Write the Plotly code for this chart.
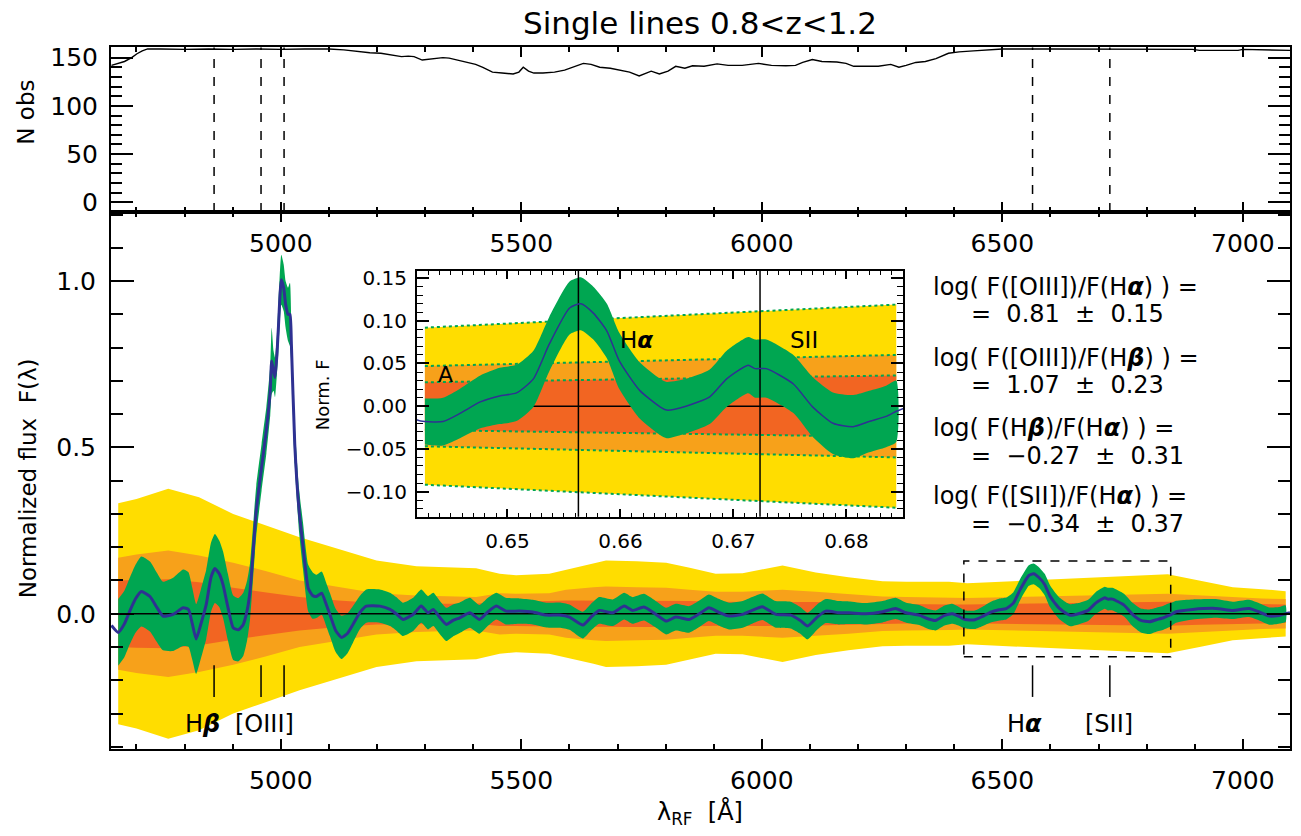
import plotly.graph_objects as go

# ---------------- data ----------------
# top panel: number of spectra contributing at each rest-frame wavelength
nobs_lam = [4648, 4660, 4675, 4690, 4701, 4712, 4723, 4750, 4800, 4850, 4900, 4950, 5000, 5050,
            5100, 5131, 5150, 5165, 5185, 5208, 5230, 5251, 5265, 5277, 5294, 5310, 5337, 5350,
            5362, 5380, 5405, 5420, 5440, 5460, 5483, 5495, 5504, 5515, 5526, 5545, 5569, 5590,
            5606, 5629, 5645, 5663, 5685, 5706, 5725, 5745, 5770, 5787, 5805, 5821, 5840, 5856,
            5880, 5907, 5930, 5959, 5975, 5993, 6020, 6050, 6070, 6085, 6105, 6125, 6156, 6175,
            6191, 6220, 6242, 6268, 6285, 6300, 6320, 6340, 6362, 6388, 6410, 6440, 6470, 6500,
            6600, 6700, 6800, 6895, 6910, 6990, 7000, 7040, 7084, 7098]
nobs = [142, 144, 146, 150, 154, 157, 159, 159, 158.5, 159, 158.5, 159, 158.5, 159,
        159, 158, 157, 155.5, 155, 154.5, 153, 151, 151.5, 151, 147.5, 148.5, 150, 149.5,
        148, 146, 143, 140, 135, 134, 133, 135, 140, 136, 134, 134, 135, 137,
        140, 144, 143, 140, 139, 137, 135, 131, 136, 133, 136, 141, 139, 141.5,
        141, 143.5, 142, 142, 143, 144, 142, 141.5, 142, 145, 148, 146, 145.5, 144,
        141, 141, 141, 143, 140, 142, 145, 146, 149, 154.5, 156, 157, 158, 159,
        159, 159, 159, 158.5, 157.5, 157.5, 158.5, 158, 157.5, 157.5]

# main panel: stacked normalized flux (median) and its uncertainty
lam = [4648, 4662, 4675, 4686, 4698, 4710, 4728, 4742, 4755, 4776, 4797, 4808, 4816, 4824,
       4834, 4845, 4855, 4863, 4872, 4880, 4890, 4901, 4912, 4922, 4930, 4936, 4949, 4960,
       4970, 4978, 4981, 4985, 4988, 4992, 4995, 5001, 5006, 5010, 5015, 5019, 5022, 5029,
       5038, 5046, 5057, 5066, 5074, 5085, 5094, 5102, 5114, 5126, 5138, 5150, 5165, 5178,
       5206, 5227, 5240, 5254, 5275, 5292, 5306, 5317, 5330, 5344, 5358, 5372, 5393, 5413,
       5430, 5448, 5468, 5496, 5524, 5552, 5579, 5600, 5628, 5645, 5662, 5690, 5714, 5731,
       5755, 5778, 5801, 5821, 5849, 5870, 5890, 5910, 5932, 5960, 5980, 6001, 6029, 6060,
       6080, 6095, 6115, 6133, 6160, 6181, 6216, 6251, 6278, 6300, 6327, 6345, 6361, 6380,
       6396, 6410, 6420, 6427, 6443, 6458, 6476, 6493, 6508, 6523, 6537, 6555, 6565, 6576,
       6588, 6599, 6617, 6635, 6641, 6658, 6679, 6694, 6713, 6719, 6729, 6753, 6770, 6788,
       6806, 6820, 6835, 6844, 6850, 6861, 6896, 6944, 6979, 7013, 7035, 7055, 7075, 7089, 7098]
flux = [-0.035, -0.056, -0.030, 0.008, 0.045, 0.067, 0.052, 0.020, -0.007, -0.002, 0.018, 0.013, -0.030, -0.076,
        -0.030, 0.028, 0.110, 0.136, 0.120, 0.087, 0.020, -0.042, -0.048, -0.032, 0.010, 0.067, 0.310, 0.440,
        0.552, 0.670, 0.760, 0.730, 0.710, 0.780, 0.860, 1.004, 0.980, 0.930, 0.900, 0.900, 0.810, 0.510,
        0.310, 0.206, 0.077, 0.055, 0.052, 0.062, 0.030, -0.002, -0.050, -0.071, -0.060, -0.032, 0.005, 0.023,
        0.023, 0.013, 0.000, -0.017, -0.002, 0.023, 0.003, 0.013, -0.010, -0.032, -0.020, -0.012, 0.003, -0.017,
        0.005, 0.023, 0.008, 0.008, 0.005, -0.004, -0.004, -0.010, -0.034, -0.010, 0.010, 0.003, 0.023, 0.010,
        0.020, 0.000, -0.022, -0.010, -0.017, 0.000, 0.018, 0.005, -0.007, -0.002, 0.010, 0.021, -0.002, -0.004,
        -0.020, -0.037, -0.010, 0.008, 0.003, 0.003, 0.000, 0.006, 0.016, 0.003, -0.004, -0.015, -0.020, -0.005,
        0.000, -0.008, -0.016, -0.018, -0.018, -0.0085, 0.005, 0.012, 0.0155, 0.032, 0.0726, 0.115, 0.120, 0.109,
        0.088, 0.053, 0.0185, -0.0008, -0.0046, 0.000, 0.011, 0.032, 0.048, 0.044, 0.044, 0.026, -0.0008, -0.020,
        -0.024, -0.018, -0.012, -0.006, -0.003, 0.006, 0.013, 0.016, 0.010, 0.016, 0.005, -0.007, -0.005, 0.000, 0.003]
flux_err = [0.100, 0.100, 0.100, 0.100, 0.102, 0.105, 0.105, 0.104, 0.103, 0.110, 0.115, 0.112, 0.108, 0.105,
            0.104, 0.104, 0.104, 0.104, 0.100, 0.100, 0.100, 0.097, 0.095, 0.095, 0.090, 0.085, 0.075, 0.070,
            0.070, 0.075, 0.100, 0.060, 0.060, 0.060, 0.070, 0.075, 0.070, 0.070, 0.080, 0.095, 0.060, 0.060,
            0.065, 0.070, 0.070, 0.070, 0.065, 0.065, 0.065, 0.065, 0.065, 0.065, 0.060, 0.055, 0.050, 0.050,
            0.050, 0.050, 0.050, 0.050, 0.050, 0.050, 0.050, 0.050, 0.050, 0.050, 0.048, 0.046, 0.045, 0.043,
            0.042, 0.040, 0.040, 0.038, 0.037, 0.037, 0.038, 0.038, 0.040, 0.040, 0.040, 0.040, 0.040, 0.040,
            0.040, 0.040, 0.040, 0.040, 0.040, 0.040, 0.040, 0.040, 0.040, 0.040, 0.040, 0.040, 0.040, 0.040,
            0.040, 0.040, 0.038, 0.036, 0.035, 0.034, 0.032, 0.032, 0.032, 0.030, 0.030, 0.030, 0.030, 0.030,
            0.030, 0.028, 0.027, 0.027, 0.028, 0.029, 0.031, 0.033, 0.033, 0.033, 0.032, 0.031, 0.031, 0.031,
            0.032, 0.033, 0.033, 0.033, 0.033, 0.032, 0.032, 0.033, 0.033, 0.034, 0.034, 0.034, 0.035, 0.036,
            0.037, 0.036, 0.036, 0.036, 0.035, 0.033, 0.030, 0.028, 0.026, 0.026, 0.026, 0.026, 0.025, 0.025, 0.025]

# confidence bands (half-widths, symmetric around zero)
band_lam = [4662, 4700, 4766, 4830, 4901, 4970, 5039, 5120, 5199, 5282, 5350, 5406, 5455, 5489,
            5558, 5593, 5650, 5676, 5740, 5801, 5850, 5904, 5960, 6043, 6112, 6180, 6251, 6300,
            6389, 6427, 6844, 6910, 6979, 7040, 7089]
band_yellow = [0.332, 0.345, 0.376, 0.350, 0.300, 0.265, 0.230, 0.195, 0.160, 0.143, 0.140, 0.137, 0.120, 0.116,
               0.120, 0.132, 0.150, 0.160, 0.158, 0.153, 0.138, 0.120, 0.122, 0.145, 0.124, 0.110, 0.098, 0.096,
               0.096, 0.092, 0.119, 0.100, 0.080, 0.074, 0.068]
band_orange = [0.168, 0.178, 0.190, 0.175, 0.153, 0.128, 0.100, 0.080, 0.062, 0.055, 0.052, 0.050, 0.062, 0.060,
               0.062, 0.072, 0.080, 0.082, 0.080, 0.078, 0.072, 0.066, 0.066, 0.072, 0.066, 0.060, 0.052, 0.050,
               0.049, 0.047, 0.060, 0.055, 0.050, 0.046, 0.044]
band_red = [0.100, 0.102, 0.104, 0.095, 0.078, 0.064, 0.050, 0.040, 0.032, 0.030, 0.030, 0.030, 0.037, 0.037,
            0.038, 0.040, 0.040, 0.040, 0.040, 0.040, 0.038, 0.036, 0.036, 0.037, 0.035, 0.033, 0.030, 0.029,
            0.028, 0.028, 0.036, 0.033, 0.030, 0.029, 0.028]

# emission lines
line_lam = [4861.3, 4958.9, 5006.8, 6562.8, 6723.5]
line_labels = ["H<b><i>β</i></b>", "[OIII]", "H<b><i>α</i></b>", "[SII]"]
line_label_lam = [4838, 4967, 6547, 6721]

# flux ratios
ratio_num = ["[OIII]", "[OIII]", "H<b><i>β</i></b>", "[SII]"]
ratio_den = ["H<b><i>α</i></b>", "H<b><i>β</i></b>", "H<b><i>α</i></b>", "H<b><i>α</i></b>"]
ratio_val = [0.81, 1.07, -0.27, -0.34]
ratio_err = [0.15, 0.23, 0.31, 0.37]

# ---------------- style ----------------
W, H = 1301, 836
FONT = "DejaVu Sans"
YELLOW, ORANGE, RED = "#FFDD00", "#F7A11A", "#F26522"
GREEN, BLUE = "#00A651", "#2E3192"


def fx(px):
    return px / W


def fy(py):
    return 1 - py / H


def poly(xs, up, lo):
    return list(xs) + list(xs)[::-1], list(up) + list(lo)[::-1]


fig = go.Figure()

# ---- top panel ----
fig.add_trace(go.Scatter(x=nobs_lam, y=nobs, mode="lines",
                         line=dict(color="black", width=1.4),
                         xaxis="x", yaxis="y", hoverinfo="skip"))

# ---- main panel ----
for hw, col in [(band_yellow, YELLOW), (band_orange, ORANGE), (band_red, RED)]:
    px_, py_ = poly(band_lam, hw, [-v for v in hw])
    fig.add_trace(go.Scatter(x=px_, y=py_, fill="toself", fillcolor=col, mode="lines",
                             line=dict(width=0, color=col), xaxis="x2", yaxis="y2", hoverinfo="skip"))

lo_l, hi_l = band_lam[0], band_lam[-1]
sel = [i for i, l in enumerate(lam) if lo_l <= l <= hi_l]
gx = [lam[i] for i in sel]
gup = [flux[i] + flux_err[i] for i in sel]
glo = [flux[i] - flux_err[i] for i in sel]
px_, py_ = poly(gx, gup, glo)
fig.add_trace(go.Scatter(x=px_, y=py_, fill="toself", fillcolor=GREEN, mode="lines",
                         line=dict(width=0, color=GREEN, shape="spline", smoothing=0.5),
                         xaxis="x2", yaxis="y2", hoverinfo="skip"))
fig.add_trace(go.Scatter(x=[lam[0], lam[-1]], y=[0, 0], mode="lines",
                         line=dict(color="black", width=1.6), xaxis="x2", yaxis="y2", hoverinfo="skip"))
fig.add_trace(go.Scatter(x=lam, y=flux, mode="lines",
                         line=dict(color=BLUE, width=3, shape="spline", smoothing=0.5),
                         xaxis="x2", yaxis="y2", hoverinfo="skip"))
# line markers
mx, my = [], []
for l in line_lam:
    mx += [l, l, None]
    my += [-0.155, -0.25, None]
fig.add_trace(go.Scatter(x=mx, y=my, mode="lines", line=dict(color="black", width=1.5),
                         xaxis="x2", yaxis="y2", hoverinfo="skip"))

# ---- inset ----
ilo, ihi = 6427, 6844
bsel = [i for i, l in enumerate(band_lam) if ilo <= l <= ihi]
bx = [band_lam[i] / 1e4 for i in bsel]
for hw, col in [(band_yellow, YELLOW), (band_orange, ORANGE), (band_red, RED)]:
    h = [hw[i] for i in bsel]
    px_, py_ = poly(bx, h, [-v for v in h])
    fig.add_trace(go.Scatter(x=px_, y=py_, fill="toself", fillcolor=col, mode="lines",
                             line=dict(width=0, color=col), xaxis="x3", yaxis="y3", hoverinfo="skip"))
for hw in [band_yellow, band_orange, band_red]:
    h = [hw[i] for i in bsel]
    for s in (1, -1):
        fig.add_trace(go.Scatter(x=bx, y=[s * v for v in h], mode="lines",
                                 line=dict(color=GREEN, width=2, dash="dot"),
                                 xaxis="x3", yaxis="y3", hoverinfo="skip"))
fig.add_trace(go.Scatter(x=[bx[0], bx[-1]], y=[0, 0], mode="lines",
                         line=dict(color="black", width=1.5), xaxis="x3", yaxis="y3", hoverinfo="skip"))
isel = [i for i, l in enumerate(lam) if ilo <= l <= ihi]
ix = [lam[i] / 1e4 for i in isel]
iup = [flux[i] + flux_err[i] for i in isel]
ilo_ = [flux[i] - flux_err[i] for i in isel]
px_, py_ = poly(ix, iup, ilo_)
fig.add_trace(go.Scatter(x=px_, y=py_, fill="toself", fillcolor=GREEN, mode="lines",
                         line=dict(width=0, color=GREEN, shape="spline", smoothing=0.6),
                         xaxis="x3", yaxis="y3", hoverinfo="skip"))
vx, vy = [], []
for l in line_lam[3:]:
    vx += [l / 1e4, l / 1e4, None]
    vy += [-1, 1, None]
fig.add_trace(go.Scatter(x=vx, y=vy, mode="lines", line=dict(color="black", width=1.5),
                         xaxis="x3", yaxis="y3", hoverinfo="skip"))
fig.add_trace(go.Scatter(x=[l / 1e4 for l in lam], y=flux, mode="lines",
                         line=dict(color=BLUE, width=1.5, shape="spline", smoothing=0.6),
                         xaxis="x3", yaxis="y3", hoverinfo="skip"))

# ---------------- axes ----------------
XR = [4647, 7098]
common = dict(showline=True, linecolor="black", linewidth=2, mirror="allticks", ticks="inside",
              tickcolor="black", tickwidth=1.5, showgrid=False, zeroline=False,
              tickfont=dict(family=FONT, size=25, color="black"))
MID = fy(209.5)

fig.update_layout(
    xaxis=dict(common, domain=[fx(111), fx(1290)], anchor="y", range=XR, dtick=500, tick0=5000,
               ticklen=10, ticklabelstandoff=8,
               minor=dict(ticks="inside", dtick=100, tick0=5000, ticklen=5, tickwidth=1.5, tickcolor="black")),
    yaxis=dict(common, domain=[MID, fy(43)], anchor="x", range=[-10, 160.5],
               tickvals=[0, 50, 100, 150], ticklen=22, ticklabelstandoff=6,
               minor=dict(ticks="inside", dtick=10, tick0=0, ticklen=11, tickwidth=1.5, tickcolor="black")),
    xaxis2=dict(common, domain=[fx(111), fx(1290)], anchor="y2", range=XR, dtick=500, tick0=5000,
                ticklen=10, ticklabelstandoff=8,
                minor=dict(ticks="inside", dtick=100, tick0=5000, ticklen=5, tickwidth=1.5, tickcolor="black")),
    yaxis2=dict(common, domain=[fy(753), MID], anchor="x2", range=[-0.4065, 1.2077],
                tickvals=[0, 0.5, 1.0], tickformat=".1f", ticklen=23, ticklabelstandoff=8,
                minor=dict(ticks="inside", dtick=0.1, tick0=0, ticklen=12, tickwidth=1.5, tickcolor="black")),
    xaxis3=dict(common, domain=[fx(417), fx(903)], anchor="y3", range=[0.642, 0.685], dtick=0.01,
                tick0=0.65, tickformat=".2f", ticklen=8, ticklabelstandoff=5,
                tickfont=dict(family=FONT, size=20, color="black"),
                minor=dict(ticks="inside", dtick=0.001, tick0=0.65, ticklen=4, tickwidth=1.2, tickcolor="black")),
    yaxis3=dict(common, domain=[fy(518), fy(269)], anchor="x3", range=[-0.1296, 0.1586], dtick=0.05,
                tick0=0, tickformat=".2f", ticklen=12, ticklabelstandoff=4,
                tickfont=dict(family=FONT, size=20, color="black"),
                minor=dict(ticks="inside", dtick=0.01, tick0=0, ticklen=6, tickwidth=1.2, tickcolor="black")),
)

# ---------------- shapes ----------------
shapes = []
for l in line_lam:
    shapes.append(dict(type="line", xref="x", yref="y domain", x0=l, x1=l, y0=0, y1=1,
                       line=dict(color="black", width=1.5, dash="dash")))
shapes.append(dict(type="rect", xref="x2", yref="y2", x0=6420, x1=6850, y0=-0.1296, y1=0.1586,
                   line=dict(color="black", width=1.5, dash="dash"), fillcolor="rgba(0,0,0,0)"))

# ---------------- annotations ----------------
ann = []


def txt(text, x, y, size, xref="paper", yref="paper", angle=0, xanchor="center"):
    ann.append(dict(text=text, x=x, y=y, xref=xref, yref=yref, showarrow=False, textangle=angle,
                    xanchor=xanchor, yanchor="middle", font=dict(family=FONT, size=size, color="black")))


txt("Single lines 0.8&lt;z&lt;1.2", fx(700), fy(18), 31)
txt("N obs", fx(26), fy(109), 23, angle=-90)
txt("Normalized flux&nbsp; F(λ)", fx(28), fy(479), 23, angle=-90)
txt("λ<sub>RF</sub>&nbsp; [Å]", fx(700), fy(818), 24)
txt("Norm. F", fx(322), fy(395), 18, angle=-90)
for name, l in zip(line_labels, line_label_lam):
    txt(name, l, -0.33, 24, xref="x2", yref="y2")
txt("A", 0.6445, 0.037, 22, xref="x3", yref="y3")
txt("H<b><i>α</i></b>", 0.6614, 0.077, 23, xref="x3", yref="y3")
txt("SII", 0.6762, 0.077, 23, xref="x3", yref="y3")

row_py = [285, 357, 428, 497]
for n, d, v, e, py in zip(ratio_num, ratio_den, ratio_val, ratio_err, row_py):
    txt(f"log(&nbsp;F({n})/F({d})&nbsp;)&nbsp;=", fx(931), fy(py), 24, xanchor="left")
    vs = f"{v:.2f}".replace("-", "\u2212")
    txt(f"=&nbsp; {vs}&nbsp; ±&nbsp; {e:.2f}", fx(969), fy(py + 28), 24, xanchor="left")

fig.update_layout(
    width=W, height=H, margin=dict(l=0, r=0, t=0, b=0),
    paper_bgcolor="white", plot_bgcolor="rgba(0,0,0,0)",
    showlegend=False, shapes=shapes, annotations=ann,
    font=dict(family=FONT, color="black"),
)

fig.write_html("out.html", config={"displayModeBar": False},
               post_script="document.body.style.margin='0';document.body.style.overflow='hidden';")
